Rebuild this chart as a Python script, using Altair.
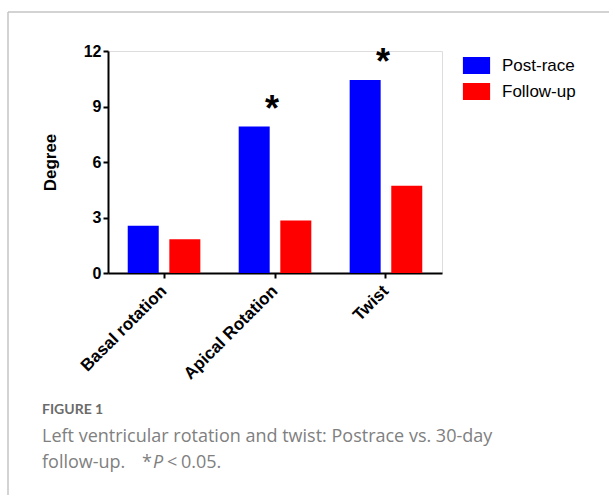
import altair as alt
import pandas as pd

categories = ["Basal rotation", "Apical Rotation", "Twist"]
series = ["Post-race", "Follow-up"]
post_race = [2.55, 7.92, 10.43]
follow_up = [1.82, 2.84, 4.72]
significance = ["", "*", "*"]
y_ticks = [0, 3, 6, 9, 12]
colors = ["#0000ff", "#ff0000"]

rows = []
for c, p, f in zip(categories, post_race, follow_up):
    rows.append({"category": c, "series": series[0], "value": p})
    rows.append({"category": c, "series": series[1], "value": f})
bars_df = pd.DataFrame(rows)

stars_df = pd.DataFrame({
    "category": categories,
    "sig": significance,
    "top": [max(p, f) for p, f in zip(post_race, follow_up)],
})

W, H = 334, 222
PL, PT = 108, 51

FONT = "Liberation Sans"

x_scale = alt.Scale(paddingInner=0.25, paddingOuter=0.13)

bars = alt.Chart(bars_df).mark_bar().encode(
    x=alt.X("category:N", sort=categories, scale=x_scale,
            axis=alt.Axis(title=None, labelAngle=-45, labelAlign="right",
                          labelBaseline="middle", labelFont=FONT,
                          labelFontWeight="bold", labelFontSize=17,
                          labelColor="black", labelPadding=10,
                          domainColor="black", domainWidth=2,
                          tickColor="black", tickWidth=2, tickSize=5)),
    xOffset=alt.XOffset("series:N", sort=series,
                        scale=alt.Scale(paddingInner=0.255, paddingOuter=0.1275)),
    y=alt.Y("value:Q", scale=alt.Scale(domain=[0, 12], nice=False),
            axis=alt.Axis(title="Degree", values=y_ticks, grid=False,
                          labelFont=FONT, labelFontWeight="bold",
                          labelFontSize=16, labelColor="black", labelPadding=2,
                          titleFont=FONT, titleFontWeight="bold",
                          titleFontSize=17, titleColor="black", titlePadding=24,
                          domainColor="black", domainWidth=2,
                          tickColor="black", tickWidth=2, tickSize=5)),
    color=alt.Color("series:N", sort=series,
                    scale=alt.Scale(domain=series, range=colors),
                    legend=alt.Legend(title=None, orient="none",
                                      legendX=360, legendY=6,
                                      symbolType="M-1.6,-1H1.6V1H-1.6Z",
                                      symbolSize=289, symbolStrokeWidth=0,
                                      symbolOpacity=1,
                                      labelFont=FONT, labelFontSize=17,
                                      labelColor="black", labelOffset=17,
                                      rowPadding=8, padding=0)),
)

stars = alt.Chart(stars_df).transform_calculate(
    ypos="datum.top + 1.4"
).mark_text(fontSize=36, fontWeight="bold", font=FONT, color="black",
            baseline="alphabetic", dx=-3, dy=20).encode(
    x=alt.X("category:N", sort=categories),
    y=alt.Y("ypos:Q"),
    text="sig:N",
)

one = pd.DataFrame({"k": [0]})
frame_top = alt.Chart(one).mark_rule(color="#c4c4c4", strokeWidth=1.5).encode(
    x=alt.value(8 - PL), x2=alt.value(620 - PL), y=alt.value(12 - PT))
frame_left = alt.Chart(one).mark_rule(color="#c4c4c4", strokeWidth=1.5).encode(
    x=alt.value(8 - PL), y=alt.value(12 - PT), y2=alt.value(500 - PT))

CAP = "Open Sans"
CAP_SIZE = 18
CAP_COLOR = "#808080"


def cap_text(txt, x, y, **kw):
    return alt.Chart(one).mark_text(
        text=txt, font=CAP, fontSize=CAP_SIZE, color=CAP_COLOR,
        align="left", baseline="middle", **kw).encode(
        x=alt.value(x - PL), y=alt.value(y - PT))


fig_label = alt.Chart(one).mark_text(
    text="FIGURE 1", font="Lato", fontSize=14, fontWeight="bold",
    color="#6b6b6b", align="left", baseline="middle").encode(
    x=alt.value(42 - PL), y=alt.value(410 - PT))
cap1 = cap_text("Left ventricular rotation and twist: Postrace vs. 30-day", 42, 437)
cap2a = cap_text("follow-up.", 42, 463)
cap2s = cap_text("*", 142, 463)
cap2b = cap_text("P", 153, 463, fontStyle="italic")
cap2c = cap_text("<", 167, 463)
cap2d = cap_text("0.05.", 181, 463)

chart = alt.layer(
    frame_top, frame_left, bars, stars, fig_label, cap1, cap2a, cap2s, cap2b,
    cap2c, cap2d
).properties(
    width=W, height=H,
    autosize=alt.AutoSizeParams(type="none"),
    padding={"left": PL, "top": PT, "right": 609 - PL - W, "bottom": 495 - PT - H},
).configure_view(stroke=None).configure(background="white")

chart.save("out.html", embed_options={"renderer": "svg", "actions": False})
